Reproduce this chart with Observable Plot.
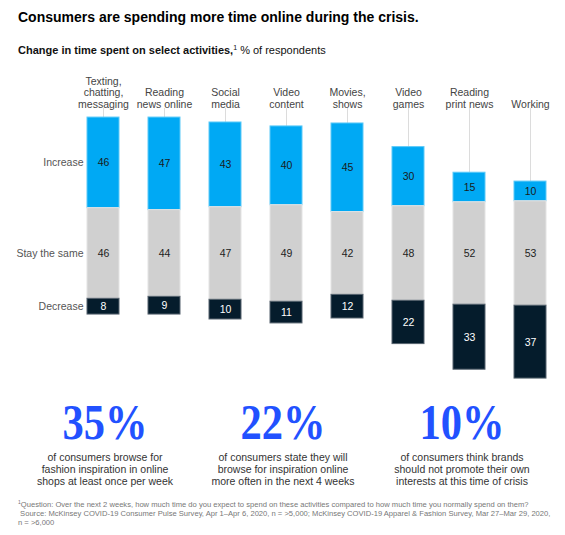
<!DOCTYPE html>
<html>
<head>
<meta charset="utf-8">
<script src="https://cdn.jsdelivr.net/npm/d3@7"></script>
<script src="https://cdn.jsdelivr.net/npm/@observablehq/plot@0.6"></script>
<style>
  html, body { margin: 0; padding: 0; background: #fff; }
  #page { position: relative; width: 565px; height: 535px; overflow: hidden; font-family: "Liberation Sans", Arial, sans-serif; color: #000; }
  #title { position: absolute; left: 18px; top: 9px; font-size: 14px; font-weight: bold; white-space: nowrap; }
  #subtitle { position: absolute; left: 18px; top: 44px; font-size: 11px; white-space: nowrap; color: #111; }
  #subtitle b sup { font-size: 7px; font-weight: normal; vertical-align: 4px; line-height: 0; }
  #chart { position: absolute; left: 0; top: 60px; }
  .stat { position: absolute; top: 396px; width: 180px; text-align: center; }
  .stat .num { font-family: "Liberation Serif", "Times New Roman", serif; font-weight: bold; font-size: 50px; line-height: 52px; color: #2251ff; display: inline-block; transform: scaleX(0.85); }
  .stat .desc { font-size: 10.5px; line-height: 12px; color: #333; margin-top: 3px; }
  #foot { position: absolute; left: 18px; top: 500px; font-size: 7.6px; line-height: 9px; color: #777; white-space: nowrap; }
  #foot sup { font-size: 5px; vertical-align: 3px; line-height: 0; }
</style>
</head>
<body>
<div id="page">
  <div id="title"></div>
  <div id="subtitle"></div>
  <div id="chart"></div>
  <div id="stats"></div>
  <div id="foot"></div>
</div>
<script>
// ---- Data ----
const titleText = "Consumers are spending more time online during the crisis.";
const subtitleBold = "Change in time spent on select activities,";
const subtitleRest = " % of respondents";
const categories = [
  "Texting,\nchatting,\nmessaging",
  "Reading\nnews online",
  "Social\nmedia",
  "Video\ncontent",
  "Movies,\nshows",
  "Video\ngames",
  "Reading\nprint news",
  "Working"
];
const responses = ["Increase", "Stay the same", "Decrease"];
const increase = [46, 47, 43, 40, 45, 30, 15, 10];
const stay     = [46, 44, 47, 49, 42, 48, 52, 53];
const decrease = [8, 9, 10, 11, 12, 22, 33, 37];

const statValues = ["35%", "22%", "10%"];
const statTexts = [
  "of consumers browse for\nfashion inspiration in online\nshops at least once per week",
  "of consumers state they will\nbrowse for inspiration online\nmore often in the next 4 weeks",
  "of consumers think brands\nshould not promote their own\ninterests at this time of crisis"
];
const footLines = [
  "Question: Over the next 2 weeks, how much time do you expect to spend on these activities compared to how much time you normally spend on them?",
  " Source: McKinsey COVID-19 Consumer Pulse Survey, Apr 1\u2013Apr 6, 2020, n = >5,000; McKinsey COVID-19 Apparel & Fashion Survey, Mar 27\u2013Mar 29, 2020,",
  "n = >6,000"
];

// ---- Styles ----
const fills = {"Increase": "#00a9f4", "Stay the same": "#d0d0d0", "Decrease": "#051c2c"};
const strokes = {"Increase": "#5cc9f8", "Stay the same": "#e4e4e4", "Decrease": "#56636e"};
const labelFill = {"Increase": "#1a1a1a", "Stay the same": "#222", "Decrease": "#ffffff"};

// ---- Build table (neutral segment centred on zero) ----
const rows = [];
categories.forEach((c, i) => {
  const h = stay[i] / 2;
  rows.push({cat: c, resp: "Increase", value: increase[i], y1: h, y2: h + increase[i]});
  rows.push({cat: c, resp: "Stay the same", value: stay[i], y1: -h, y2: h});
  rows.push({cat: c, resp: "Decrease", value: decrease[i], y1: -h - decrease[i], y2: -h});
});
const tops = categories.map((c, i) => ({cat: c, top: stay[i] / 2 + increase[i]}));
const yMin = -66, yMax = 73.6;

const chart = Plot.plot({
  width: 565,
  height: 330,
  marginTop: 47,
  marginBottom: 7,
  marginLeft: 85,
  marginRight: 18,
  style: {fontFamily: "'Liberation Sans', Arial, sans-serif", fontSize: "10.5px", background: "transparent"},
  x: {domain: categories, range: [85, 547], paddingInner: 0.478, paddingOuter: 0, axis: null},
  y: {domain: [yMin, yMax], range: [323, 48], axis: null},
  color: {type: "identity"},
  marks: [
    Plot.ruleX(tops, {x: "cat", y1: "top", y2: yMax, stroke: "#dcdcdc", strokeWidth: 1}),
    Plot.barY(rows, {x: "cat", y1: "y1", y2: "y2", fill: d => fills[d.resp], stroke: d => strokes[d.resp], strokeWidth: 1}),
    Plot.text(rows, {x: "cat", y: d => (d.y1 + d.y2) / 2, text: d => String(d.value), fill: d => labelFill[d.resp], fontSize: 10.5}),
    Plot.text(rows.filter(d => d.cat === categories[0]), {x: "cat", y: d => (d.y1 + d.y2) / 2, text: "resp", textAnchor: "end", dx: -20, fill: "#555"}),
    Plot.text(categories, {x: d => d, text: d => d, frameAnchor: "top", lineAnchor: "bottom", lineHeight: 1.07, fill: "#444"})
  ]
});
document.getElementById("chart").appendChild(chart);

document.getElementById("title").textContent = titleText;
const sub = document.getElementById("subtitle");
sub.innerHTML = "";
const b = document.createElement("b");
b.textContent = subtitleBold;
const sup = document.createElement("sup"); sup.textContent = "1"; b.appendChild(sup);
sub.appendChild(b);
sub.appendChild(document.createTextNode(subtitleRest));

const centers = [105, 283, 462];
const stats = document.getElementById("stats");
statValues.forEach((v, i) => {
  const d = document.createElement("div");
  d.className = "stat";
  d.style.left = (centers[i] - 90) + "px";
  const n = document.createElement("div"); n.className = "num"; n.textContent = v;
  const t = document.createElement("div"); t.className = "desc";
  t.innerHTML = statTexts[i].split("\n").map(s => s.replace(/&/g, "&amp;")).join("<br>");
  d.appendChild(n); d.appendChild(t);
  stats.appendChild(d);
});

const foot = document.getElementById("foot");
footLines.forEach((line, i) => {
  const div = document.createElement("div");
  div.style.whiteSpace = "pre";
  if (i === 0) {
    const s = document.createElement("sup"); s.textContent = "1"; div.appendChild(s);
  }
  div.appendChild(document.createTextNode(line));
  foot.appendChild(div);
});
</script>
</body>
</html>
